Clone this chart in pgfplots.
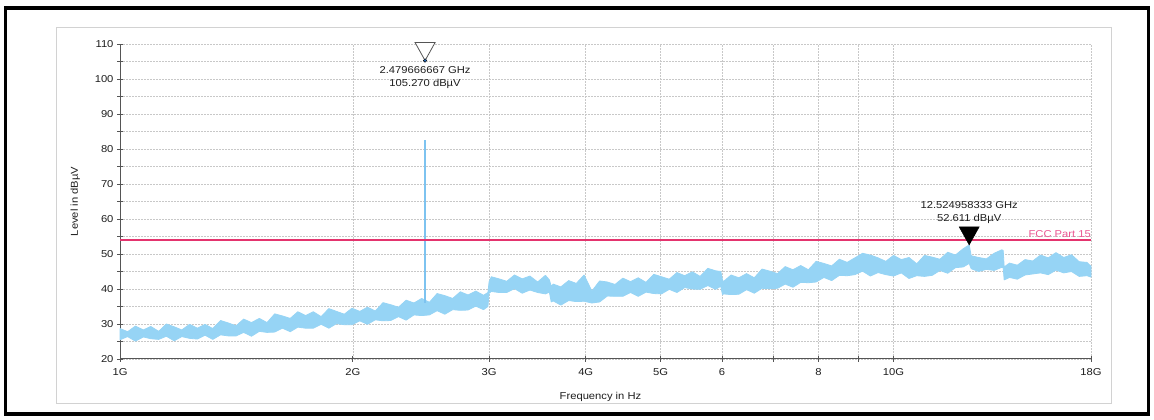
\documentclass[border=0pt]{standalone}
\usepackage{pgfplots}
\pgfplotsset{compat=1.18}
\usepackage{pgfplotstable}
\usepackage{fontspec}
\setmainfont{Liberation Sans}[FakeStretch=1.12]
\definecolor{bandc}{RGB}{150,212,245}
\definecolor{spikec}{RGB}{125,195,240}
\definecolor{limitc}{RGB}{228,52,110}
\definecolor{limittxt}{RGB}{235,85,145}
\definecolor{axisc}{RGB}{85,85,85}
\definecolor{gridc}{RGB}{200,200,200}
\definecolor{txtc}{RGB}{30,30,30}
\pgfdeclareplotmark{dtri}{%
  \pgfpathmoveto{\pgfpoint{0pt}{0pt}}%
  \pgfpathlineto{\pgfpoint{-\pgfplotmarksize}{1.8\pgfplotmarksize}}%
  \pgfpathlineto{\pgfpoint{\pgfplotmarksize}{1.8\pgfplotmarksize}}%
  \pgfpathclose
  \pgfusepathqfillstroke}

% envelope of the trace: upper edge (1G -> 18G) then lower edge (18G -> 1G)
\pgfplotstableread{
f v
1.000 28.7
1.023 27.8
1.047 29.4
1.072 28.3
1.096 29.3
1.122 27.9
1.148 30.0
1.175 29.2
1.202 28.3
1.230 29.9
1.259 28.8
1.288 29.9
1.318 28.7
1.349 31.0
1.380 30.3
1.413 29.5
1.445 31.4
1.479 30.4
1.514 31.6
1.549 30.4
1.585 32.9
1.622 32.3
1.660 31.6
1.698 33.5
1.738 32.4
1.778 33.5
1.820 32.1
1.862 34.4
1.905 33.6
1.950 32.8
1.995 34.5
2.042 33.6
2.089 34.8
2.138 33.7
2.188 36.1
2.239 35.5
2.291 34.8
2.344 36.8
2.399 36.0
2.455 37.3
2.512 36.2
2.570 38.7
2.630 38.1
2.692 37.3
2.754 39.2
2.818 38.3
2.884 39.4
2.951 38.2
2.990 39.0
3.000 42.0
3.020 43.5
3.090 42.9
3.162 42.2
3.236 44.0
3.311 42.9
3.388 43.7
3.467 42.0
3.548 43.9
3.590 42.6
3.610 40.8
3.631 41.4
3.715 40.6
3.802 42.4
3.890 41.6
3.981 44.0
4.074 39.4
4.169 42.3
4.266 42.0
4.365 41.3
4.467 43.1
4.571 42.1
4.677 43.2
4.786 41.9
4.898 44.2
5.012 43.5
5.129 42.8
5.248 44.7
5.370 43.8
5.495 44.9
5.623 43.6
5.754 45.9
5.888 45.2
5.980 45.0
6.010 42.6
6.026 42.1
6.166 44.0
6.310 43.2
6.457 44.4
6.607 43.2
6.761 45.7
6.918 45.1
7.079 44.4
7.244 46.4
7.413 45.5
7.586 46.7
7.762 45.5
7.943 47.9
8.128 47.3
8.318 46.6
8.511 48.5
8.710 47.6
8.913 48.9
9.120 50.2
9.333 49.7
9.550 48.9
9.772 47.9
10.000 49.6
10.233 48.4
10.471 49.0
10.715 47.2
10.965 49.6
11.220 49.1
11.482 48.5
11.749 50.5
12.023 49.7
12.303 51.5
12.525 52.6
12.600 49.5
12.882 49.0
13.183 48.6
13.490 50.2
13.804 51.2
13.860 51.0
13.900 46.3
14.125 47.4
14.454 46.8
14.791 48.4
15.136 48.0
15.488 49.7
15.849 48.9
16.218 50.4
16.596 49.0
16.982 49.8
17.378 47.8
17.783 47.6
18.000 46.5
18.000 43.4
17.783 43.8
17.378 43.6
16.982 45.0
16.596 44.6
16.218 45.4
15.849 44.1
15.488 44.6
15.136 44.3
14.791 44.0
14.454 42.8
14.125 43.3
13.900 42.6
13.860 46.0
13.804 46.2
13.490 45.3
13.183 45.6
12.882 45.0
12.600 45.8
12.525 47.3
12.303 46.3
12.023 46.1
11.749 44.5
11.482 45.3
11.220 43.9
10.965 43.6
10.715 43.8
10.471 43.0
10.233 44.6
10.000 43.7
9.772 44.1
9.550 44.7
9.333 43.7
9.120 45.1
8.913 44.1
8.710 43.8
8.511 43.9
8.318 42.4
8.128 43.3
7.943 42.0
7.762 41.8
7.586 41.9
7.413 40.5
7.244 41.4
7.079 40.2
6.918 40.1
6.761 40.2
6.607 38.8
6.457 39.8
6.310 38.5
6.166 38.4
6.026 38.6
6.010 38.3
5.980 40.8
5.888 39.9
5.754 41.0
5.623 39.9
5.495 40.0
5.370 40.4
5.248 39.0
5.129 39.9
5.012 38.6
4.898 38.7
4.786 39.1
4.677 37.9
4.571 39.0
4.467 37.9
4.365 37.9
4.266 38.0
4.169 36.3
4.074 36.0
3.981 36.5
3.890 36.4
3.802 36.7
3.715 35.4
3.631 36.6
3.610 36.3
3.590 39.1
3.548 38.6
3.467 39.0
3.388 39.7
3.311 38.8
3.236 40.1
3.162 39.0
3.090 39.0
3.020 39.3
3.000 38.8
2.990 35.0
2.951 34.1
2.884 35.1
2.818 34.0
2.754 33.9
2.692 34.1
2.630 32.8
2.570 33.8
2.512 32.6
2.455 32.4
2.399 32.6
2.344 31.1
2.291 32.1
2.239 31.0
2.188 30.9
2.138 31.2
2.089 29.9
2.042 30.9
1.995 29.8
1.950 29.8
1.905 30.1
1.862 28.8
1.820 29.9
1.778 28.8
1.738 28.8
1.698 29.1
1.660 27.8
1.622 28.8
1.585 27.7
1.549 27.6
1.514 27.9
1.479 26.5
1.445 27.6
1.413 26.6
1.380 26.6
1.349 26.9
1.318 25.6
1.288 26.8
1.259 25.7
1.230 25.9
1.202 26.4
1.175 25.2
1.148 26.5
1.122 25.6
1.096 25.8
1.072 26.3
1.047 25.1
1.023 26.4
1.000 25.5
}\bandT

\begin{document}
\begin{tikzpicture}
\fill[white] (0pt,0pt) rectangle (1154pt,420pt);
\path[use as bounding box] (0pt,0pt) rectangle (1154pt,420pt);
\draw[black, line width=3.5pt] (5.5pt,6pt) rectangle (1148.5pt,412pt);
\draw[gray!35, line width=0.8pt] (56pt,17pt) rectangle (1111pt,393pt);
\begin{axis}[
  at={(120pt,61pt)}, anchor=south west,
  width=971pt, height=315pt, scale only axis,
  xmode=log, xmin=1, xmax=18, ymin=20, ymax=110,
  clip=false,
  axis lines*=left,
  axis line style={draw=axisc, line width=1pt, -},
  xtick={1,2,3,4,5,6,7,8,9,10,18},
  xticklabels={1G,2G,3G,4G,5G,6,,8,,10G,18G},
  xminorticks=false,
  ytick={20,30,...,110},
  minor ytick={25,35,...,105},
  tick align=center,
  major tick length=6pt, minor tick length=6pt,
  tick style={draw=axisc, line width=0.8pt},
  xmajorgrids, ymajorgrids, yminorgrids,
  grid style={gridc, line width=0.6pt, dash pattern=on 1.5pt off 1.5pt},
  minor grid style={gridc, line width=0.6pt, dash pattern=on 1.5pt off 1.5pt},
  /pgf/number format/assume math mode=true,
  ticklabel style={font=\fontsize{10}{12}\selectfont, text=txtc},
  xticklabel style={yshift=-3pt},
  xlabel={Frequency in Hz},
  ylabel={Level in dBµV},
  every axis x label/.style={at={(axis description cs:0.5,0)}, anchor=center, yshift=-38pt, xshift=-5pt, font=\fontsize{10}{12}\selectfont, text=txtc},
  every axis y label/.style={at={(axis description cs:-0.046,0.5)}, anchor=center, rotate=90, font=\fontsize{10}{12}\selectfont, text=txtc},
]
\addplot[fill=bandc, draw=bandc, line width=0.8pt, line join=bevel] table[x=f, y=v] {\bandT} -- cycle;
\addplot[draw=spikec, line width=1.2pt] coordinates {(2.4797,36) (2.4797,82.6)};
\addplot[limitc, line width=1.3pt] coordinates {(1,54) (18,54)};
\node[anchor=base east, inner sep=0pt, yshift=2.5pt, text=limittxt, font=\fontsize{10}{12}\selectfont] at (axis cs:18,54) {FCC Part 15};
\addplot[only marks, mark=dtri, mark size=10pt, mark options={draw=axisc, fill=white, line width=0.8pt}] coordinates {(2.479666667,105.27)};
\addplot[only marks, mark=*, mark size=1.8pt, mark options={draw=none, fill={rgb,255:red,40;green,110;blue,190}}] coordinates {(2.479666667,105.27)};
\addplot[only marks, mark=dtri, mark size=10pt, mark options={draw=black, fill=black, line width=0.5pt}] coordinates {(12.524958333,52.611)};
\node[anchor=north, inner sep=0pt, yshift=-6pt, align=center, text=txtc, font=\fontsize{10}{13}\selectfont] at (axis cs:2.479666667,105.27) {2.479666667 GHz\\105.270 dBµV};
\node[anchor=south, inner sep=0pt, yshift=21pt, align=center, text=txtc, font=\fontsize{10}{13}\selectfont] at (axis cs:12.524958333,52.611) {12.524958333 GHz\\52.611 dBµV};
\end{axis}
\end{tikzpicture}
\end{document}
